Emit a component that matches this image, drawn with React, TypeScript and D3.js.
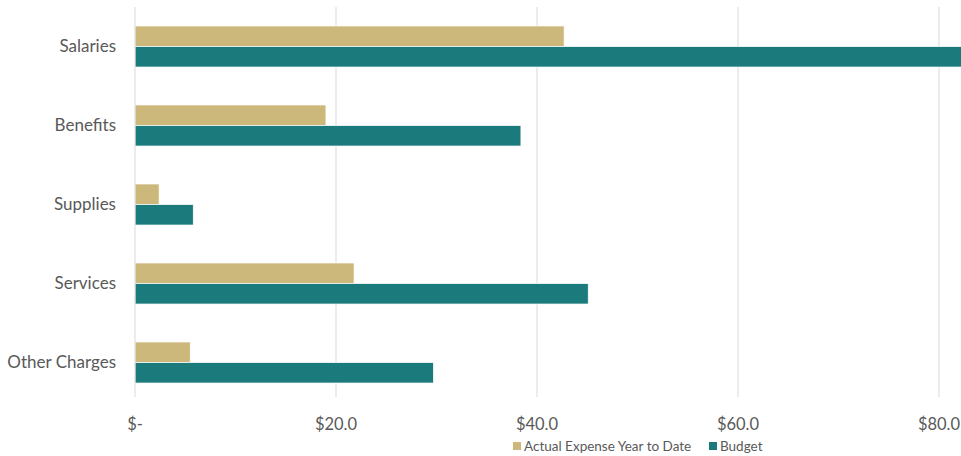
import React, { useEffect, useRef } from 'react';
import * as d3 from 'd3';

const categories = ['Salaries', 'Benefits', 'Supplies', 'Services', 'Other Charges'];
const actualValues = [42.7, 19.0, 2.4, 21.8, 5.5];
const budgetValues = [86.0, 38.4, 5.8, 45.1, 29.7];
const seriesNames = ['Actual Expense Year to Date', 'Budget'];
const tickValues = [0, 20, 40, 60, 80];

const colors = ['#CDB87B', '#1A7A7C'];

const App = () => {
  const svgRef = useRef<SVGSVGElement>(null);
  const width = 961;
  const height = 456;

  useEffect(() => {
    if (!svgRef.current) return;
    const svg = d3.select(svgRef.current);
    svg.selectAll('*').remove();

    const x = d3.scaleLinear().domain([0, 80]).range([135, 939]);
    const y = d3.scaleBand<string>().domain(categories).range([7, 402]);
    const bandInner = y.bandwidth() * 0.52;
    const sub = d3.scaleBand<number>().domain([0, 1]).range([0, bandInner]);

    // gridlines
    svg.append('g')
      .selectAll('line')
      .data(tickValues.slice(1))
      .enter().append('line')
      .attr('x1', d => x(d))
      .attr('x2', d => x(d))
      .attr('y1', 7)
      .attr('y2', 397)
      .attr('stroke', '#D9D9D9')
      .attr('stroke-width', 1);

    const groups = svg.append('g')
      .selectAll('g')
      .data(categories)
      .enter().append('g')
      .attr('transform', d => `translate(0,${(y(d) || 0) + (y.bandwidth() - bandInner) / 2})`);

    [actualValues, budgetValues].forEach((vals, si) => {
      groups.append('rect')
        .attr('x', x(0))
        .attr('y', () => sub(si) || 0)
        .attr('width', (_, i) => x(vals[i]) - x(0))
        .attr('height', sub.bandwidth())
        .attr('fill', colors[si])
        .attr('stroke', '#fff')
        .attr('stroke-width', 0.75);
    });

    // left axis line
    svg.append('line')
      .attr('x1', x(0)).attr('x2', x(0))
      .attr('y1', 7).attr('y2', 397)
      .attr('stroke', '#D9D9D9');

    // category labels
    svg.append('g')
      .selectAll('text')
      .data(categories)
      .enter().append('text')
      .attr('x', 116)
      .attr('y', d => (y(d) || 0) + y.bandwidth() / 2)
      .attr('dy', '0.35em')
      .attr('text-anchor', 'end')
      .style('font-family', 'Lato, "Open Sans", sans-serif')
      .style('font-size', '17px')
      .style('fill', '#595959')
      .text(d => d);

    // tick labels
    svg.append('g')
      .selectAll('text')
      .data(tickValues)
      .enter().append('text')
      .attr('x', d => x(d))
      .attr('y', 430)
      .attr('text-anchor', 'middle')
      .style('font-family', 'Lato, "Open Sans", sans-serif')
      .style('font-size', '16.5px')
      .style('fill', '#595959')
      .text(d => (d === 0 ? '$-' : '$' + d3.format('.1f')(d)));

    // legend
    const legendX = [513, 709];
    const legend = svg.append('g');
    seriesNames.forEach((name, i) => {
      legend.append('rect')
        .attr('x', legendX[i])
        .attr('y', 442)
        .attr('width', 8)
        .attr('height', 8)
        .attr('fill', colors[i]);
      legend.append('text')
        .attr('x', legendX[i] + 11)
        .attr('y', 451)
        .style('font-family', 'Lato, "Open Sans", sans-serif')
        .style('font-size', '13.5px')
        .style('fill', '#595959')
        .text(name);
    });
  }, []);

  return (
    <svg
      ref={svgRef}
      width={width}
      height={height}
      style={{ position: 'absolute', left: 0, top: 0, display: 'block' }}
    />
  );
};

export default App;
